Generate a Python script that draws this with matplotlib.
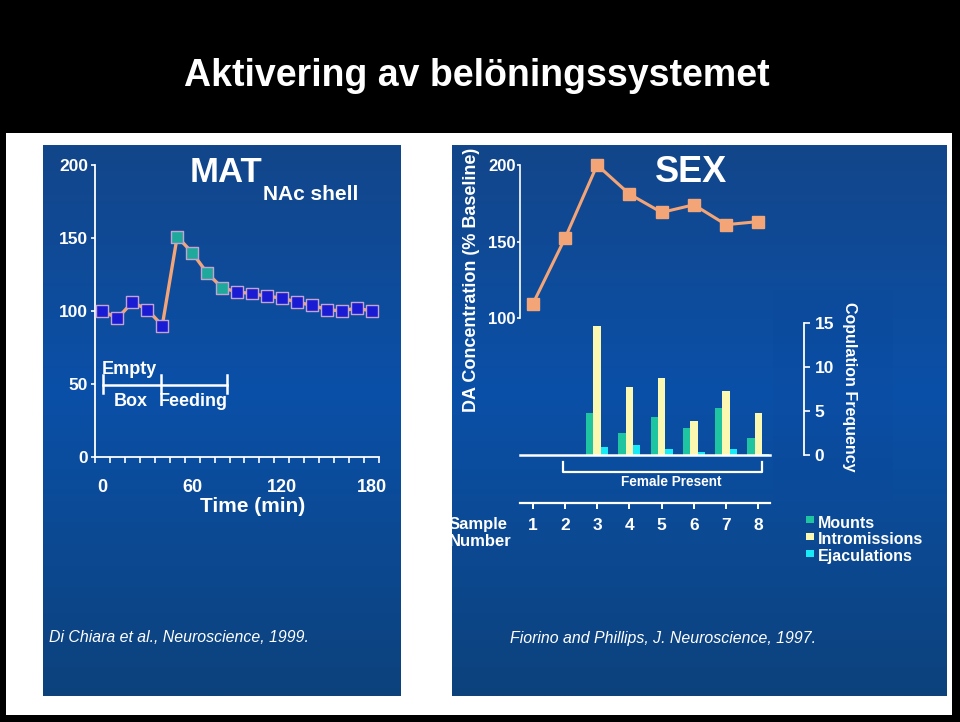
import matplotlib
matplotlib.use('Agg')
import matplotlib.pyplot as plt
import numpy as np
from matplotlib.patches import Rectangle
from matplotlib.colors import LinearSegmentedColormap

plt.rcParams['font.family'] = ['Liberation Sans', 'DejaVu Sans']
plt.rcParams['font.weight'] = 'bold'

# ---------------- data ----------------
title = "Aktivering av belöningssystemet"

mat_time = [0, 10, 20, 30, 40, 50, 60, 70, 80, 90, 100, 110, 120, 130, 140, 150, 160, 170, 180]
mat_da = [100, 95, 106, 101, 90, 151, 140, 126, 116, 113, 112, 110, 109, 106, 104, 101, 100, 102, 100]
mat_phase = ['box'] * 5 + ['feeding'] * 4 + ['after'] * 10
mat_yticks = [0, 50, 100, 150, 200]
mat_xticks = [0, 60, 120, 180]
mat_minor_xticks = list(range(-5, 186, 10))

sex_samples = [1, 2, 3, 4, 5, 6, 7, 8]
sex_da = [109, 152, 200, 181, 169, 174, 161, 163]
sex_yticks = [100, 150, 200]

bar_samples = [3, 4, 5, 6, 7, 8]
mounts = [4.8, 2.5, 4.3, 3.1, 5.3, 1.9]
intromissions = [14.7, 7.7, 8.75, 3.9, 7.3, 4.8]
ejaculations = [0.9, 1.1, 0.65, 0.35, 0.65, 0.15]
freq_ticks = [0, 5, 10, 15]

legend_labels = ["Mounts", "Intromissions", "Ejaculations"]

# ---------------- style ----------------
W, H = 960, 722
SALMON = '#f3a578'
TEAL = '#1fc4a0'
YELLOW = '#fbf8b2'
CYAN = '#18eaf6'
MAT_BLUE = '#1a1cd4'
MAT_TEAL = '#1fa89c'
MAT_EDGE = '#c4a4cc'

fig = plt.figure(figsize=(9.6, 7.22), dpi=100, facecolor='black')


def box(x0, y0, x1, y1):
    return [x0 / W, 1 - y1 / H, (x1 - x0) / W, (y1 - y0) / H]


# background (pixel coordinates)
bg = fig.add_axes([0, 0, 1, 1])
bg.set_facecolor('black')
bg.add_patch(Rectangle((6, 133), 946, 582, facecolor='white', edgecolor='none', zorder=0))
grad = np.linspace(0, 1, 256)[:, None]
cmap = LinearSegmentedColormap.from_list(
    'panel', [(0, '#13468a'), (0.45, '#0a50a8'), (1, '#0d427c')])
for (x0, x1) in [(43, 401), (452, 947)]:
    bg.imshow(grad, extent=(x0, x1, 696, 145), cmap=cmap, aspect='auto',
              interpolation='bilinear', zorder=0.5)
bg.add_patch(Rectangle((773, 290), 120, 210, facecolor='#0a4698', alpha=0.18,
                       edgecolor='none', zorder=1))
bg.set_xlim(0, W)
bg.set_ylim(H, 0)
bg.axis('off')

bg.text(476.5, 76, title, ha='center', va='center', fontsize=27, color='white')

# ---------------- MAT panel ----------------
ax1 = fig.add_axes(box(95, 165, 379, 457))
ax1.patch.set_alpha(0)
ax1.set_xlim(-5, 185)
ax1.set_ylim(0, 200)
for s in ['top', 'right']:
    ax1.spines[s].set_visible(False)
for s in ['left', 'bottom']:
    ax1.spines[s].set_color('white')
    ax1.spines[s].set_linewidth(1.3)
ax1.set_yticks(mat_yticks)
ax1.tick_params(axis='y', colors='white', length=3, width=1.2, pad=2, labelsize=12.5)
ax1.set_xticks(mat_xticks)
ax1.set_xticks(mat_minor_xticks, minor=True)
ax1.tick_params(axis='x', which='major', length=0, pad=16, labelsize=13, colors='white')
ax1.tick_params(axis='x', which='minor', length=4, width=1.2, color='white')

phase_colors = {'box': MAT_BLUE, 'feeding': MAT_TEAL, 'after': MAT_BLUE}
ax1.plot(mat_time, mat_da, color=SALMON, lw=2.4, zorder=2, clip_on=False)
ax1.scatter(mat_time, mat_da, marker='s', s=74,
            c=[phase_colors[p] for p in mat_phase], edgecolors=MAT_EDGE,
            linewidths=1.0, zorder=3, clip_on=False)

bg.text(226, 172, "MAT", ha='center', va='center', fontsize=25, color='white')
bg.text(263, 195, "NAc shell", ha='left', va='center', fontsize=15, color='white')
bg.text(102, 369, "Empty", ha='left', va='center', fontsize=13, color='white')
bg.text(114, 401, "Box", ha='left', va='center', fontsize=13, color='white')
bg.text(159, 401, "Feeding", ha='left', va='center', fontsize=13, color='white')
bg.plot([103, 227], [385, 385], color='white', lw=1.8)
for xv in [103, 161, 227]:
    bg.plot([xv, xv], [375, 393], color='white', lw=1.8)
bg.text(252.5, 507, "Time (min)", ha='center', va='center', fontsize=15, color='white')
bg.text(49, 638, "Di Chiara et al., Neuroscience, 1999.", ha='left', va='center',
        fontsize=11.4, style='italic', weight='normal', color='white')

# ---------------- SEX panel ----------------
XL = (0.606, 8.363)

ax2 = fig.add_axes(box(520, 165, 770, 318))
ax2.patch.set_alpha(0)
ax2.set_xlim(*XL)
ax2.set_ylim(100, 200)
for s in ['top', 'right', 'bottom']:
    ax2.spines[s].set_visible(False)
ax2.spines['left'].set_color('white')
ax2.spines['left'].set_linewidth(1.2)
ax2.set_xticks([])
ax2.set_yticks(sex_yticks)
ax2.tick_params(axis='y', colors='white', length=2, width=1.2, pad=1, labelsize=12)
ax2.plot(sex_samples, sex_da, color=SALMON, lw=2.2, marker='s', ms=9,
         mfc=SALMON, mec=SALMON, clip_on=False, zorder=3)

ax3 = fig.add_axes(box(520, 323, 770, 455))
ax3.patch.set_alpha(0)
ax3.set_xlim(*XL)
ax3.set_ylim(0, 15)
for s in ['top', 'right', 'left']:
    ax3.spines[s].set_visible(False)
ax3.spines['bottom'].set_color('white')
ax3.spines['bottom'].set_linewidth(1.8)
ax3.set_xticks([])
ax3.set_yticks([])
bw = 0.227
xs = np.array(bar_samples, dtype=float)
ax3.bar(xs - bw, mounts, bw, color=TEAL, zorder=2, clip_on=False)
ax3.bar(xs, intromissions, bw, color=YELLOW, zorder=2, clip_on=False)
ax3.bar(xs + bw, ejaculations, bw, color=CYAN, zorder=2, clip_on=False)

ax4 = fig.add_axes(box(780, 323, 803.5, 455))
ax4.patch.set_alpha(0)
ax4.set_ylim(0, 15)
for s in ['top', 'left', 'bottom']:
    ax4.spines[s].set_visible(False)
ax4.spines['right'].set_color('white')
ax4.spines['right'].set_linewidth(1.3)
ax4.set_xticks([])
ax4.yaxis.tick_right()
ax4.set_yticks(freq_ticks)
ax4.tick_params(axis='y', colors='white', length=4, width=1.2, pad=4, labelsize=12.5)

ax5 = fig.add_axes(box(520, 470, 770, 503))
ax5.patch.set_alpha(0)
ax5.set_xlim(*XL)
for s in ['top', 'right', 'left']:
    ax5.spines[s].set_visible(False)
ax5.spines['bottom'].set_color('white')
ax5.spines['bottom'].set_linewidth(1.6)
ax5.set_yticks([])
ax5.set_xticks(sex_samples)
ax5.tick_params(axis='x', colors='white', length=4, width=1.4, pad=7, labelsize=12.5)

bg.text(691, 172, "SEX", ha='center', va='center', fontsize=26, color='white')
bg.text(472, 280, "DA Concentration (% Baseline)", rotation=90, ha='center',
        va='center', fontsize=13, color='white')
bg.text(850, 387, "Copulation Frequency", rotation=270, ha='center', va='center',
        fontsize=11.5, color='white')
bg.plot([563, 563, 762, 762], [462, 472, 472, 462], color='white', lw=1.6)
bg.text(671, 482, "Female Present", ha='center', va='center', fontsize=9.8, color='white')
bg.text(449, 524, "Sample", ha='left', va='center', fontsize=12, color='white')
bg.text(449, 542, "Number", ha='left', va='center', fontsize=12, color='white')

for i, (lab, col) in enumerate(zip(legend_labels, [TEAL, YELLOW, CYAN])):
    yc = 523 + 17 * i
    bg.add_patch(Rectangle((806, yc - 7.5), 7.5, 7.5, facecolor=col, edgecolor='none', zorder=3))
    bg.text(818, yc, lab, ha='left', va='center', fontsize=11.5, color='white')

bg.text(510, 638, "Fiorino and Phillips, J. Neuroscience, 1997.", ha='left', va='center',
        fontsize=11.4, style='italic', weight='normal', color='white')

fig.savefig('out.png', dpi=100, facecolor='black')
